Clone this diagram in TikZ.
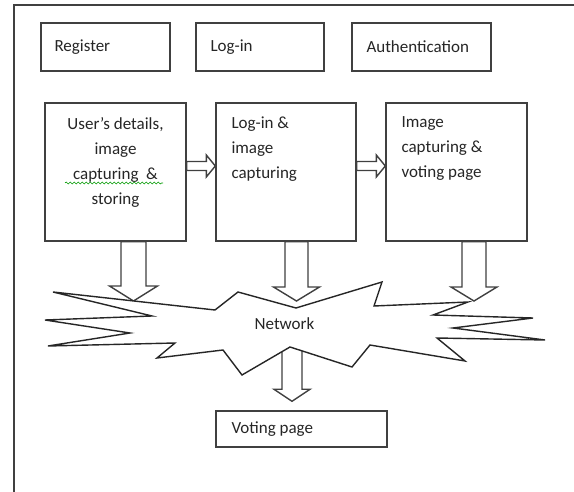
\documentclass[tikz,border=0pt]{standalone}
\usepackage{fontspec}
\setmainfont{Carlito}
\usetikzlibrary{calc,decorations.pathmorphing}
\newcommand{\blockarr}[5]{% from, to, shaft half width, head half width, head length
  \coordinate (ba-h) at ($(#2)!#5!(#1)$);
  \draw[blk] ($(#1)!#3!90:(#2)$) -- ($(ba-h)!#3!-90:(#1)$) -- ($(ba-h)!#4!-90:(#1)$) -- (#2)
    -- ($(ba-h)!#4!90:(#1)$) -- ($(ba-h)!#3!90:(#1)$) -- ($(#1)!#3!-90:(#2)$) -- cycle;
}
\begin{document}
\begin{tikzpicture}[x=1pt,y=-1pt,
  ln/.style={draw=black!75, line width=1.4pt},
  box/.style={ln, fill=white, inner sep=0pt},
  lbl/.style={font=\fontsize{17}{25}\selectfont, text=black!85, inner sep=0pt, align=left},
  blk/.style={ln, fill=white, line join=miter},
  starshape/.style={draw=black!85, line width=1.4pt, fill=white, line join=miter}]

\useasboundingbox (0,0) rectangle (574,492);
\fill[white] (0,0) rectangle (574,492);
\draw[ln, line width=1.8pt] (14,492) -- (14,5) -- (574,5);

% top row
\node[box, minimum width=129, minimum height=48] (reg) at (105.5,47) {};
\node[lbl, anchor=west] (regt) at ($(reg.west)+(14,0)$) {Register};
\node[box, minimum width=128, minimum height=48] (log) at (260,47) {};
\node[lbl, anchor=west] (logt) at ($(log.west)+(15,0)$) {Log-in};
\node[box, minimum width=139, minimum height=48] (aut) at (421.5,47) {};
\node[lbl, anchor=west] (autt) at ($(aut.west)+(15,0)$) {Authentication};

% middle row
\node[box, minimum width=141, minimum height=138] (m1) at (115.5,172) {};
\node[box, minimum width=140, minimum height=138] (m2) at (286,172) {};
\node[box, minimum width=141, minimum height=138] (m3) at (456.5,172) {};
\node[lbl, anchor=north, align=center] (m1t) at ($(m1.north)+(0,15)$) {User’s details,\\image\\capturing\ \ \&\\storing};
\node[lbl, anchor=north west] (m2t) at ($(m2.north west)+(16,14)$) {Log-in \&\\image\\capturing};
\node[lbl, anchor=north west] (m3t) at ($(m3.north west)+(16,14)$) {Image\\capturing \&\\voting page};
\draw[green!60!black, line width=0.6pt, decorate, decoration={snake, amplitude=1pt, segment length=4pt}]
  (65,183) -- (163,183);

% horizontal block arrows
\coordinate (h1s) at ($(m1.east)+(0,-6)$);
\coordinate (h1e) at ($(m2.west)+(0,-6)$);
\coordinate (h2s) at ($(m2.east)+(0,-6)$);
\coordinate (h2e) at ($(m3.west)+(0,-6)$);
\blockarr{h1s}{h1e}{4.5pt}{11pt}{9pt}
\blockarr{h2s}{h2e}{4.5pt}{11pt}{9pt}

% bottom box
\node[box, minimum width=171, minimum height=36] (vote) at (301.5,429) {};
\node[lbl, anchor=west] (votet) at ($(vote.west)+(16,0)$) {Voting page};

% down block arrows
\coordinate (d1s) at ($(m1.south)+(18,0)$);
\coordinate (d1e) at (133.5,301);
\coordinate (d2s) at ($(m2.south)+(10.5,0)$);
\coordinate (d2e) at (296.5,301);
\coordinate (d3s) at ($(m3.south)+(17.5,0)$);
\coordinate (d3e) at (474,301);
\blockarr{d1s}{d1e}{12.5pt}{24pt}{15pt}
\blockarr{d2s}{d2e}{11.5pt}{23pt}{14pt}
\blockarr{d3s}{d3e}{12pt}{23pt}{14pt}
\coordinate (np) at (292,346);
\coordinate (vte) at ($(vote.north)+(-9.5,-9)$);
\blockarr{np}{vte}{10pt}{18pt}{12pt}

% network star
\draw[starshape] (53,292) -- (152,316) -- (45,320) -- (130,333) -- (48,346) -- (175,343)
  -- (157,358) -- (223,350) -- (242,375) -- (290,347) -- (352,367) -- (370,345)
  -- (465,361) -- (437,338) -- (545,340) -- (453,328) -- (533,318) -- (433,315)
  -- (468,302) -- (374,306) -- (382,282) -- (296,308) -- (238,292) -- (215,310) -- cycle;
\node[lbl] (net) at (284.5,324) {Network};
\end{tikzpicture}
\end{document}
